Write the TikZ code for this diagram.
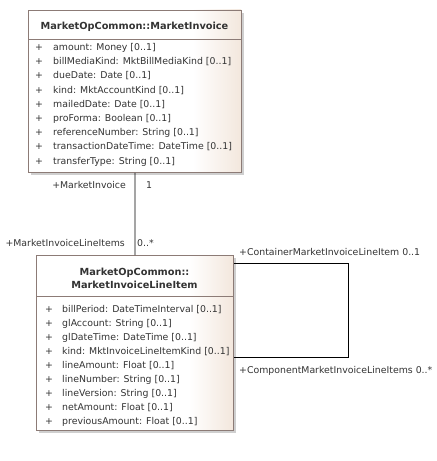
\documentclass[tikz,border=0pt]{standalone}
\usepackage{fontspec}
\setmainfont{DejaVu Sans}
\usepackage{tikz}
\usetikzlibrary{calc}
\definecolor{umlborder}{HTML}{8C7B76}
\definecolor{umlshade}{HTML}{F3E7DD}
\definecolor{umlshadow}{HTML}{CFCFCF}
\definecolor{umltext}{HTML}{333333}
\newcommand{\umlfont}{\fontsize{9.4}{11}\selectfont}
\newcommand{\umlheadfont}{\fontsize{9.8}{11}\selectfont\bfseries}
\tikzset{
  classbox/.style={draw=umlborder, line width=0.9bp, inner sep=0, anchor=north west},
  attr/.style={anchor=base west, inner sep=0, font=\umlfont, text=umltext},
  head/.style={anchor=base, inner sep=0, font=\umlheadfont, text=umltext},
  role/.style={inner sep=0, font=\umlfont, text=umltext},
  link/.style={draw=black, line width=0.9bp}
}

\begin{document}
\begin{tikzpicture}[x=1bp, y=-1bp]
      \useasboundingbox (0,0) rectangle (437,461);
      \pgfmathsetmacro{\sh}{3}
      % MarketInvoice
      \fill[umlshadow] (28+\sh,10+\sh) rectangle (241+\sh,172+\sh);
      \fill[white] (28,10) rectangle (193,172);
      \shade[left color=white, right color=umlshade] (193,10) rectangle (241,172);
      \node[classbox, minimum width=213bp, minimum height=162bp] (invoice) at (28,10) {};
      \draw[umlborder, line width=0.9bp] (28,39.5) -- (241,39.5);
      \node[head] (invoicename) at (134.5,29.5) {MarketOpCommon::MarketInvoice};
      \node[attr] at (35,50.5) {+};
      \node[attr] at (35,64.7) {+};
      \node[attr] at (35,78.9) {+};
      \node[attr] at (35,93.1) {+};
      \node[attr] at (35,107.3) {+};
      \node[attr] at (35,121.5) {+};
      \node[attr] at (35,135.7) {+};
      \node[attr] at (35,149.9) {+};
      \node[attr] at (35,164.1) {+};
      \node[attr] (amount) at (53,50.5) {amount: Money [0..1]};
      \node[attr] (billmedia) at (53,64.7) {billMediaKind: MktBillMediaKind [0..1]};
      \node[attr] (duedate) at (53,78.9) {dueDate: Date [0..1]};
      \node[attr] (kind) at (53,93.1) {kind: MktAccountKind [0..1]};
      \node[attr] (maileddate) at (53,107.3) {mailedDate: Date [0..1]};
      \node[attr] (proforma) at (53,121.5) {proForma: Boolean [0..1]};
      \node[attr] (refnumber) at (53,135.7) {referenceNumber: String [0..1]};
      \node[attr] (transdate) at (53,149.9) {transactionDateTime: DateTime [0..1]};
      \node[attr] (transtype) at (53,164.1) {transferType: String [0..1]};

      % MarketInvoiceLineItem
      \fill[umlshadow] (36+\sh,255+\sh) rectangle (233+\sh,430+\sh);
      \fill[white] (36,255) rectangle (189,430);
      \shade[left color=white, right color=umlshade] (189,255) rectangle (233,430);
      \node[classbox, minimum width=197bp, minimum height=175bp] (lineitem) at (36,255) {};
      \draw[umlborder, line width=0.9bp] (36,296) -- (233,296);
      \node[head] (lineitemname) at (134.5,275.5) {MarketOpCommon::};
      \node[head] (lineitemname2) at (134.5,288.5) {MarketInvoiceLineItem};
      \node[attr] at (45,312.5) {+};
      \node[attr] at (45,326.5) {+};
      \node[attr] at (45,340.5) {+};
      \node[attr] at (45,354.5) {+};
      \node[attr] at (45,368.5) {+};
      \node[attr] at (45,382.5) {+};
      \node[attr] at (45,396.5) {+};
      \node[attr] at (45,410.5) {+};
      \node[attr] at (45,424.5) {+};
      \node[attr] (billperiod) at (62,312.5) {billPeriod: DateTimeInterval [0..1]};
      \node[attr] (glaccount) at (62,326.5) {glAccount: String [0..1]};
      \node[attr] (gldate) at (62,340.5) {glDateTime: DateTime [0..1]};
      \node[attr] (linekind) at (62,354.5) {kind: MktInvoiceLineItemKind [0..1]};
      \node[attr] (lineamount) at (62,368.5) {lineAmount: Float [0..1]};
      \node[attr] (linenumber) at (62,382.5) {lineNumber: String [0..1]};
      \node[attr] (lineversion) at (62,396.5) {lineVersion: String [0..1]};
      \node[attr] (netamount) at (62,410.5) {netAmount: Float [0..1]};
      \node[attr] (prevamount) at (62,424.5) {previousAmount: Float [0..1]};

      % associations
      \draw[link] (invoice.south) -- (lineitem.north);
      \node[role, anchor=base east] (roleinvoice) at (126,189) {+MarketInvoice};
      \node[role, anchor=base west] (multinvoice) at (146,189) {1};
      \node[role, anchor=base east] (roleitems) at (125,246) {+MarketInvoiceLineItems};
      \node[role, anchor=base west] (multitems) at (137,246) {0..*};

      \coordinate (loopx) at (348,0);
      \coordinate (loopa) at ([yshift=-8bp]lineitem.north east);
      \coordinate (loopb) at ([yshift=73bp]lineitem.south east);
      \draw[link] (loopa) -- (loopa -| loopx) -- (loopb -| loopx) -- (loopb);
      \node[role, anchor=base west] (rolecontainer) at (239,255) {+ContainerMarketInvoiceLineItem 0..1};
      \node[role, anchor=base west] (rolecomponent) at (239,373) {+ComponentMarketInvoiceLineItems 0..*};
    \end{tikzpicture}
\end{document}
